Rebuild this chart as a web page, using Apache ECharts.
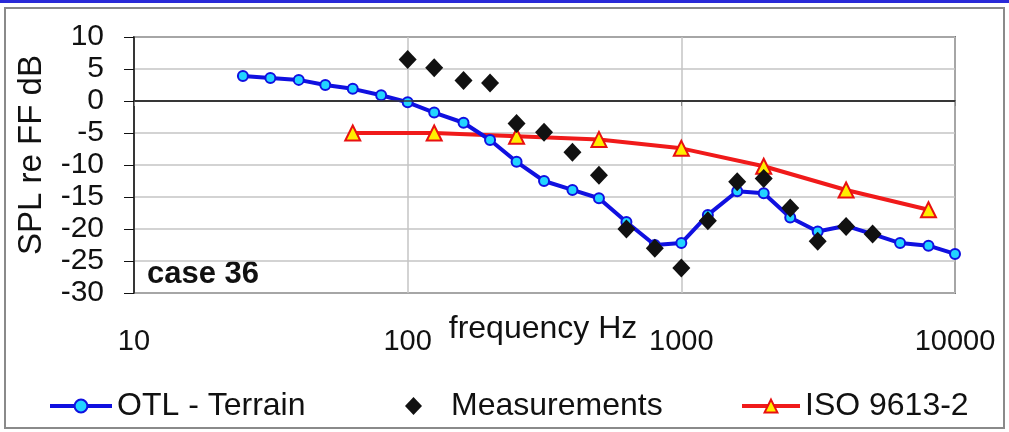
<!DOCTYPE html>
<html>
<head>
<meta charset="utf-8">
<script src="https://cdn.jsdelivr.net/npm/echarts@6/dist/echarts.min.js"></script>
<style>
html,body{margin:0;padding:0;background:#fff;}
#c{width:1009px;height:432px;}
</style>
</head>
<body>
<div id="c"></div>
<script>
// third-octave band centre frequencies (Hz)
var otlFreq = [25,31.5,40,50,63,80,100,125,160,200,250,315,400,500,630,800,1000,1250,1600,2000,2500,3150,4000,5000,6300,8000,10000];
var otlValues = [3.9,3.6,3.3,2.5,1.9,0.9,-0.2,-1.8,-3.4,-6.1,-9.5,-12.5,-13.9,-15.2,-18.9,-22.5,-22.2,-17.8,-14.1,-14.4,-18.2,-20.4,-19.5,-20.8,-22.2,-22.6,-23.9];
var measFreq = [100,125,160,200,250,315,400,500,630,800,1000,1250,1600,2000,2500,3150,4000,5000];
var measValues = [6.5,5.2,3.2,2.8,-3.5,-4.9,-8.0,-11.6,-20.0,-23.0,-26.1,-18.7,-12.6,-12.1,-16.7,-21.9,-19.6,-20.8];
var isoFreq = [63,125,250,500,1000,2000,4000,8000];
var isoValues = [-5.0,-5.0,-5.5,-6.0,-7.4,-10.2,-13.9,-17.0];
var seriesNames = ['OTL - Terrain','Measurements','ISO 9613-2'];

function pairs(xs, ys){ return xs.map(function(x,i){ return [x, ys[i]]; }); }

var FONT = "'Liberation Sans', Arial, sans-serif";
var chart = echarts.init(document.getElementById('c'), null, {renderer:'canvas'});
var legendBase = {
  top: 385, orient:'horizontal', itemHeight:16, itemGap:0,
  textStyle:{fontFamily:FONT, fontSize:32, color:'#111'},
  selectedMode:false
};
chart.setOption({
  animation:false,
  backgroundColor:'#fff',
  grid:{left:134, right:54, top:37, bottom:139, show:true, borderColor:'#111', borderWidth:1.5, containLabel:false},
  xAxis:{
    type:'log', logBase:10, min:10, max:10000,
    axisLine:{show:true, lineStyle:{color:'#111', width:1.5}},
    axisTick:{show:true, inside:false, length:5, lineStyle:{color:'#888'}},
    minorTick:{show:false},
    splitLine:{show:true, lineStyle:{color:'#c4c4c4', width:1.5}},
    axisLabel:{fontFamily:FONT, fontSize:29, color:'#111', margin:34,
      formatter:function(v){ return String(Math.round(v)); }}
  },
  yAxis:{
    type:'value', min:-30, max:10, interval:5,
    axisLine:{show:true, lineStyle:{color:'#111', width:1.5}},
    axisTick:{show:true, inside:false, length:10, lineStyle:{color:'#111'}},
    splitLine:{show:true, lineStyle:{color:'#c4c4c4', width:1.5}},
    axisLabel:{fontFamily:FONT, fontSize:30, color:'#111', margin:30}
  },
  legend:[
    Object.assign({}, legendBase, {left:43, itemWidth:62, data:[seriesNames[0]], lineStyle:{width:4}}),
    Object.assign({}, legendBase, {left:400, itemWidth:17, itemHeight:18,
      data:[{name:seriesNames[1], icon:'diamond'}],
      textStyle:{fontFamily:FONT, fontSize:32, color:'#111', padding:[0,0,0,24]}}),
    Object.assign({}, legendBase, {left:735, itemWidth:58, data:[seriesNames[2]], lineStyle:{width:4}})
  ],
  series:[
    {
      name:seriesNames[2], type:'line', data:pairs(isoFreq, isoValues),
      symbol:'triangle', symbolSize:15, z:3,
      lineStyle:{color:'#f01a1a', width:4},
      itemStyle:{color:'#ffee00', borderColor:'#e81010', borderWidth:2},
      markLine:{silent:true, symbol:'none', label:{show:false},
        lineStyle:{color:'#333', width:1.5, type:'solid'},
        data:[{yAxis:0}]}
    },
    {
      name:seriesNames[0], type:'line', data:pairs(otlFreq, otlValues),
      symbol:'circle', symbolSize:10, z:4,
      lineStyle:{color:'#1010e0', width:4},
      itemStyle:{color:'#22d4ff', borderColor:'#1010e0', borderWidth:2}
    },
    {
      name:seriesNames[1], type:'scatter', data:pairs(measFreq, measValues),
      symbol:'diamond', symbolSize:[18,19], z:5,
      itemStyle:{color:'#111', opacity:1}
    }
  ],
  graphic:[
    {type:'rect', shape:{x:0,y:0,width:1009,height:3}, style:{fill:'#2a2ad8'}, silent:true},
    {type:'rect', shape:{x:5,y:8,width:999,height:420}, style:{fill:'none', stroke:'#8a8a8a', lineWidth:2}, silent:true, z:-10},
    {type:'text', x:32, y:155, rotation:Math.PI/2,
      style:{text:'SPL re FF dB', fontFamily:FONT, fontSize:33, fill:'#111', textAlign:'center', textVerticalAlign:'middle'}},
    {type:'text', x:543, y:329,
      style:{text:'frequency Hz', fontFamily:FONT, fontSize:32, fill:'#111', textAlign:'center', textVerticalAlign:'middle'}},
    {type:'text', x:147, y:274,
      style:{text:'case 36', fontFamily:FONT, fontSize:31, fontWeight:'bold', fill:'#111', textAlign:'left', textVerticalAlign:'middle'}}
  ]
});
</script>
</body>
</html>
